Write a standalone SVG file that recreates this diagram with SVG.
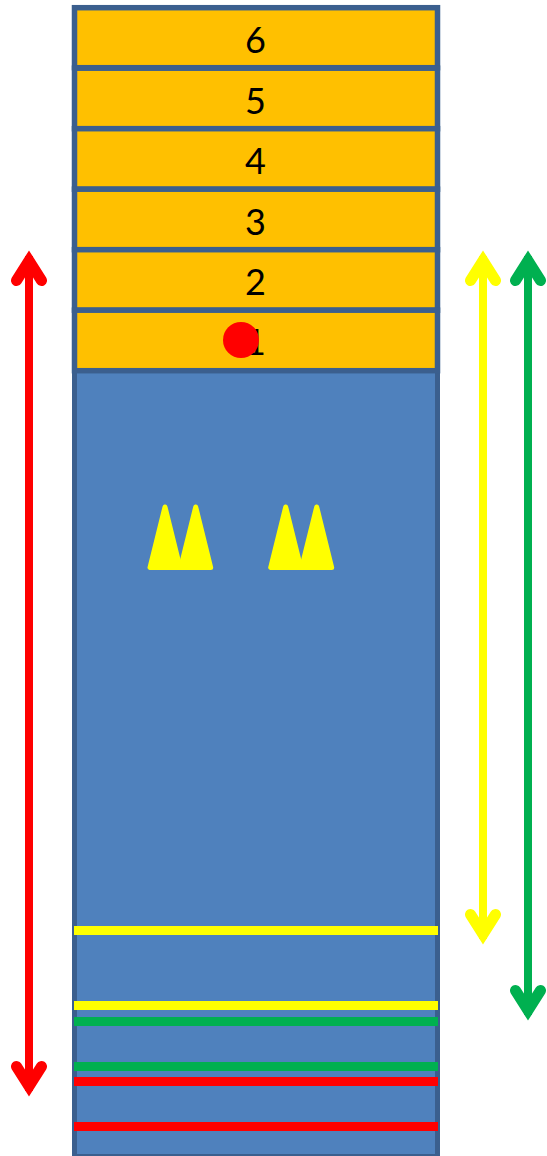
<svg xmlns="http://www.w3.org/2000/svg" width="547" height="1156" viewBox="0 0 547 1156">
<style>
.row{fill:#FFC000;stroke:#3B5F8E;stroke-width:5.5}
.num{font-family:"Lato","Open Sans",sans-serif;font-size:36px;fill:#000;text-anchor:middle}
.shaft{fill:none;stroke-width:8}
.head{fill:none;stroke-width:11;stroke-linecap:round;stroke-linejoin:miter}
.tri{fill:#FFFF00;stroke:#FFFF00;stroke-width:5;stroke-linejoin:round}
</style>
<rect width="547" height="1156" fill="#FFFFFF"/>
<g id="body"><rect x="74.5" y="370.5" width="363" height="786" fill="#4F81BD" stroke="#3B5F8E" stroke-width="5"/></g>
<g id="row-6"><rect class="row" x="74.5" y="7.7" width="363" height="60"/><text class="num" x="255.5" y="52.5">6</text></g>
<g id="row-5"><rect class="row" x="74.5" y="68.2" width="363" height="60.5"/><text class="num" x="255.5" y="113.5">5</text></g>
<g id="row-4"><rect class="row" x="74.5" y="128.7" width="363" height="60.5"/><text class="num" x="255.5" y="173.5">4</text></g>
<g id="row-3"><rect class="row" x="74.5" y="189.2" width="363" height="60.5"/><text class="num" x="255.5" y="234.5">3</text></g>
<g id="row-2"><rect class="row" x="74.5" y="249.7" width="363" height="60.5"/><text class="num" x="255.5" y="294.5">2</text></g>
<g id="row-1"><rect class="row" x="74.5" y="310.2" width="363" height="60.5"/><text class="num" x="255.5" y="355">1</text></g>
<g id="dot"><circle cx="241" cy="340" r="18" fill="#FF0000"/></g>
<g id="peaks-left">
<polygon class="tri" points="165,507 150,567.5 180,567.5"/>
<polygon class="tri" points="195.7,507 180.7,567.5 210.7,567.5"/>
</g>
<g id="peaks-right">
<polygon class="tri" points="285.7,507 270.7,567.5 300.7,567.5"/>
<polygon class="tri" points="316.7,507 301.7,567.5 331.7,567.5"/>
</g>
<g id="levels">
<rect x="74" y="926" width="364" height="9" fill="#FFFF00"/>
<rect x="74" y="1001" width="364" height="9" fill="#FFFF00"/>
<rect x="74" y="1017" width="364" height="9" fill="#00B050"/>
<rect x="74" y="1062" width="364" height="9" fill="#00B050"/>
<rect x="74" y="1077" width="364" height="9" fill="#FF0000"/>
<rect x="74" y="1122" width="364" height="9" fill="#FF0000"/>
</g>
<g id="connectors">
<g stroke="#FF0000"><path class="shaft" d="M29 256V1091"/><path class="head" d="M16.5 280.5L29 260.7L41.5 280.5M16.5 1066.5L29 1086.3L41.5 1066.5"/></g>
<g stroke="#FFFF00"><path class="shaft" d="M483 256V939"/><path class="head" d="M470.5 280.5L483 260.7L495.5 280.5M470.5 914.5L483 934.3L495.5 914.5"/></g>
<g stroke="#00B050"><path class="shaft" d="M528 256V1015"/><path class="head" d="M515.5 280.5L528 260.7L540.5 280.5M515.5 990.5L528 1010.3L540.5 990.5"/></g>
</g>
</svg>
